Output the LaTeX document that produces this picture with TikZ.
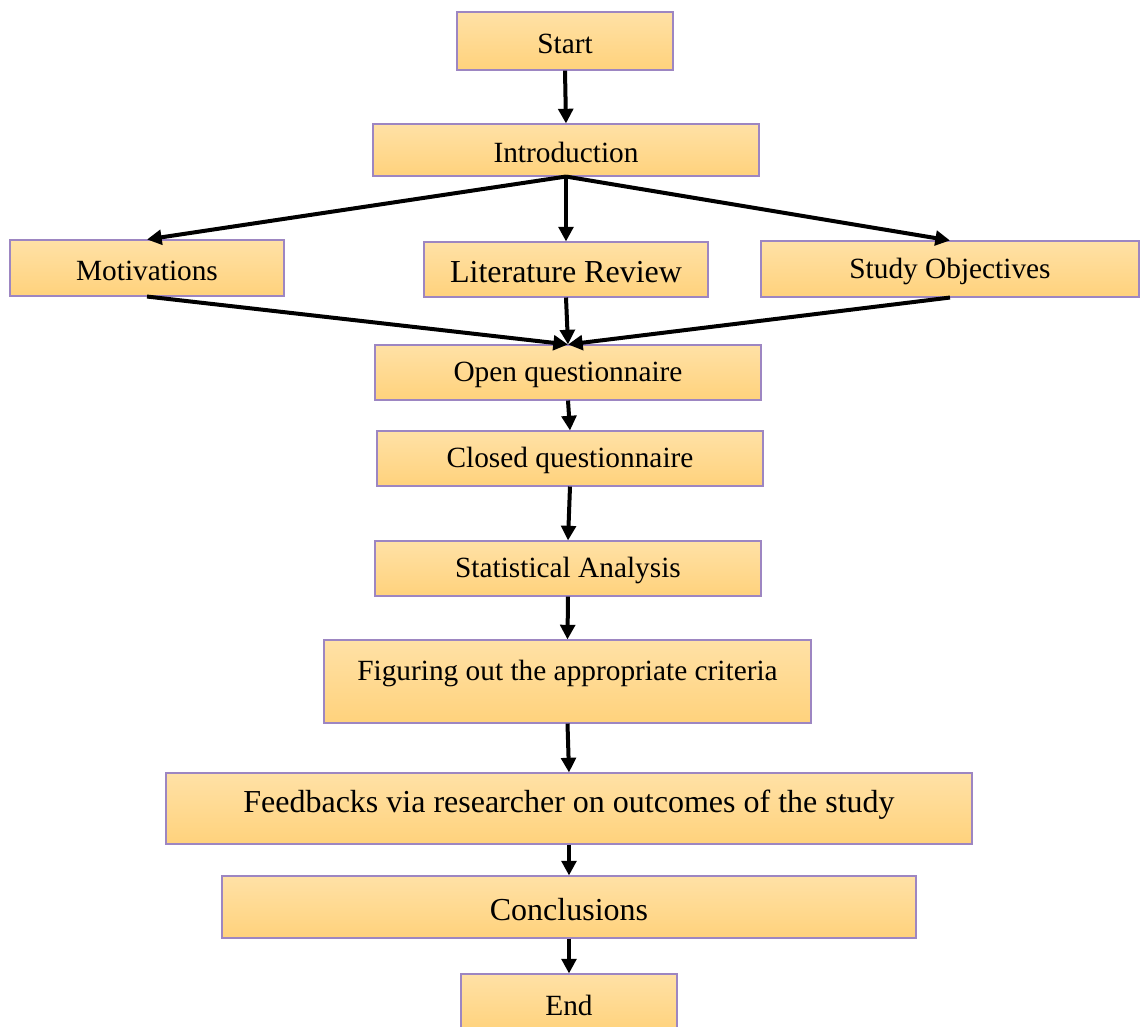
\documentclass[tikz,border=0pt]{standalone}
\usepackage{fontspec}
\setmainfont{Liberation Serif}
\usetikzlibrary{arrows.meta}
\definecolor{boxtop}{HTML}{FFE1A6}
\definecolor{boxbot}{HTML}{FFD27C}
\definecolor{boxline}{HTML}{9D86C2}
\tikzset{blk/.style={draw=boxline,line width=0.8pt,top color=boxtop,bottom color=boxbot,
  inner sep=0pt,text height=18.8pt,font=\fontsize{22}{26}\selectfont},
  big/.style={text height=20.2pt,font=\fontsize{24}{28}\selectfont},
  arr/.style={line width=3pt,-{Triangle[length=11pt,width=11pt]}}}
\begin{document}
\begin{tikzpicture}[x=0.75pt,y=-0.75pt]
\useasboundingbox (0,0) rectangle (1140,1026);
\node[blk,minimum width=162pt,minimum height=43.5pt] (start) at (565,41) {Start};
\node[blk,minimum width=289.5pt,minimum height=39pt] (intro) at (566,150) {Introduction};
\node[blk,minimum width=205.5pt,minimum height=42pt] (motiv) at (147,268) {Motivations};
\node[blk,big,minimum width=213pt,minimum height=41.25pt] (litrev) at (566,269.5) {Literature Review};
\node[blk,minimum width=283.5pt,minimum height=42pt] (objec) at (950,269) {Study Objectives};
\node[blk,minimum width=289.5pt,minimum height=41.25pt] (openq) at (568,372.5) {Open questionnaire};
\node[blk,minimum width=289.5pt,minimum height=41.25pt] (closedq) at (570,458.5) {Closed questionnaire};
\node[blk,minimum width=289.5pt,minimum height=41.25pt] (stats) at (568,568.5) {Statistical Analysis};
\node[blk,minimum width=365.25pt,minimum height=62.25pt,text depth=19.75pt] (crit) at (567.5,681.5) {Figuring out the appropriate criteria};
\node[blk,big,minimum width=604.5pt,minimum height=53.25pt,text depth=13.75pt] (feedb) at (569,808.5) {Feedbacks via researcher on outcomes of the study};
\node[blk,big,minimum width=520.5pt,minimum height=46.5pt] (concl) at (569,907) {Conclusions};
\node[blk,minimum width=162pt,minimum height=43.5pt] (finish) at (569,1003) {End};
% arrows
\draw[arr] (start.south) -- (intro.north);
\draw[arr] (intro.south) -- (motiv.north);
\draw[arr] (intro.south) -- (litrev.north);
\draw[arr] (intro.south) -- (objec.north);
\draw[arr] (motiv.south) -- (openq.north);
\draw[arr] (litrev.south) -- (openq.north);
\draw[arr] (objec.south) -- (openq.north);
\draw[arr] (openq.south) -- (closedq.north);
\draw[arr] (closedq.south) -- (stats.north);
\draw[arr] (stats.south) -- (crit.north);
\draw[arr] (crit.south) -- (feedb.north);
\draw[arr] (feedb.south) -- (concl.north);
\draw[arr] (concl.south) -- (finish.north);
\end{tikzpicture}
\end{document}
